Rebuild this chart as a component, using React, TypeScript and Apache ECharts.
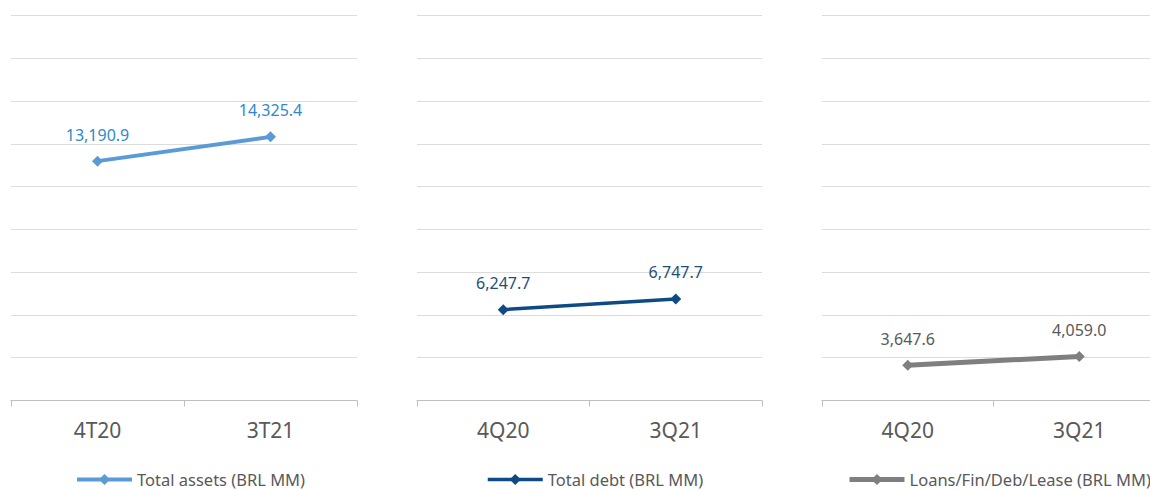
import React, { useEffect, useRef } from "react";
import * as echarts from "echarts";

const cats1 = ["4T20", "3T21"];
const cats2 = ["4Q20", "3Q21"];
const cats3 = ["4Q20", "3Q21"];
const assets = [13190.9, 14325.4];
const debt = [6247.7, 6747.7];
const loans = [3647.6, 4059.0];
const names = ["Total assets (BRL MM)", "Total debt (BRL MM)", "Loans/Fin/Deb/Lease (BRL MM)"];
const yMin = 2000;
const yMax = 20000;
const yStep = 2000;

const FONT = "Noto Sans";

const fmt = (v: number) =>
  v.toLocaleString("en-US", { minimumFractionDigits: 1, maximumFractionDigits: 1 });

export default function App() {
  const ref = useRef<HTMLDivElement>(null);
  useEffect(() => {
    if (!ref.current) return;
    const chart = echarts.init(ref.current, undefined, { renderer: "svg" });
    const grids = [
      { left: 11, width: 346, top: 15.5, height: 385 },
      { left: 417, width: 345, top: 15.5, height: 385 },
      { left: 822, width: 343, top: 15.5, height: 385 },
    ];
    const catsAll = [cats1, cats2, cats3];
    const dataAll = [assets, debt, loans];
    const lineColors = ["#5B9BD5", "#0E4A84", "#7F7F7F"];
    const labelColors = ["#2F87D0", "#1F4E79", "#595959"];
    const widths = [4, 3.5, 5];
    const legendLeft = [75, 486, 847];
    const option: any = {
      animation: false,
      grid: grids,
      xAxis: grids.map((_, i) => ({
        type: "category",
        gridIndex: i,
        data: catsAll[i],
        boundaryGap: true,
        axisLine: { show: true, lineStyle: { color: "#BFBFBF", width: 1 } },
        axisTick: { show: true, length: 6, lineStyle: { color: "#BFBFBF" } },
        axisLabel: { color: "#595959", fontSize: 21, fontFamily: FONT, margin: 19 },
      })),
      yAxis: grids.map((_, i) => ({
        type: "value",
        gridIndex: i,
        min: yMin,
        max: yMax,
        interval: yStep,
        axisLine: { show: false },
        axisTick: { show: false },
        axisLabel: { show: false },
        splitLine: { show: true, lineStyle: { color: "#DCDCDC", width: 1 } },
      })),
      legend: names.map((n, i) => ({
        data: [n],
        left: legendLeft[i],
        top: 471,
        padding: 0,
        itemWidth: 55,
        itemHeight: 14,
        itemGap: 0,
        lineStyle: { width: widths[i] },
        textStyle: { color: "#595959", fontSize: 16.5, lineHeight: 17, fontFamily: FONT },
      })),
      series: names.map((n, i) => ({
        name: n,
        type: "line",
        xAxisIndex: i,
        yAxisIndex: i,
        data: dataAll[i],
        symbol: "diamond",
        symbolSize: 11,
        lineStyle: { color: lineColors[i], width: widths[i] },
        itemStyle: { color: lineColors[i] },
        label: {
          show: true,
          position: "top",
          distance: 13,
          color: labelColors[i],
          fontSize: 16,
          fontFamily: FONT,
          formatter: (p: any) => fmt(p.value),
        },
      })),
    };
    chart.setOption(option);
    return () => chart.dispose();
  }, []);
  return (
    <div style={{ position: "absolute", left: 0, top: 0, width: 1150, height: 490, overflow: "hidden", background: "#fff" }}>
      <div ref={ref} style={{ width: 1170, height: 490 }} />
    </div>
  );
}
